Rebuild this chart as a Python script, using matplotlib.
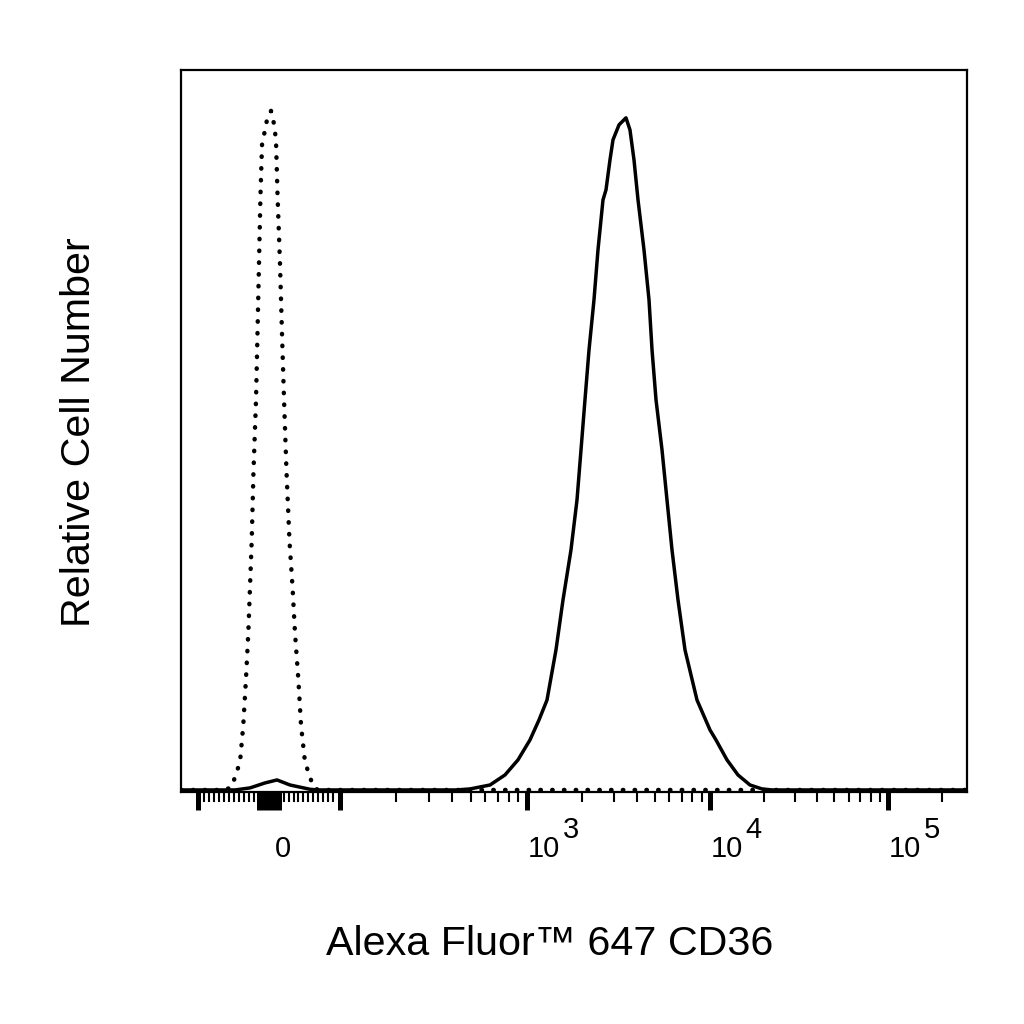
import numpy as np
import matplotlib
matplotlib.use("Agg")
import matplotlib.pyplot as plt

plt.rcParams['font.family'] = ['Liberation Sans', 'DejaVu Sans']

# ---------------- data (fluorescence intensity, relative count) ----------------
stained_x = [-123, -47.7, -26.5, -5.3, 11.7, 30, 58.3, 69.6, 420,
             497, 635, 763, 895, 1038, 1163, 1286, 1440, 1573, 1739, 1876, 1973,
             2074, 2182, 2323, 2443, 2602, 2702, 2841, 2951, 3183, 3475,
             3654, 3843, 4042, 4358, 4642, 4822, 5070, 5467, 5821, 6200, 6686,
             7301, 8492, 10000, 10806, 12461, 14364, 16776, 19599, 22300, 278000]
stained_y = [0, 0, 0.3, 1.03, 1.47, 0.73, 0.1, 0, 0,
             0.15, 0.73, 2.2, 4.41, 7.34, 10.28, 13.2, 20.56, 27.9, 35.24, 42.58, 49.93,
             57.27, 64.6, 71.95, 79.3, 86.64, 88.1, 92.5, 95.45, 97.65, 98.68,
             96.9, 92.5, 86.64, 79.3, 71.95, 64.6, 57.27, 49.93, 42.58, 35.24, 27.9,
             20.56, 13.2, 8.81, 7.34, 4.41, 2.2, 0.73, 0.15, 0, 0]

control_x = [-123, -61.8, -52.4, -40.6, -36.0, -32.2, -28.9, -26.5, -24.1, -21.6, -18.0,
             -15.9, -13.8, -11.7, -9.5, -2.9, 3.2, 7.4, 10.2, 12.4, 15.9, 18.7, 21.6,
             25.1, 29.3, 33.6, 37.1, 41.8, 45.6, 51.2, 63.0, 69.6, 278000]
control_y = [0, 0, 0.44, 4.11, 9.54, 16.3, 23.05, 29.8, 36.56, 46.7, 57.27,
             67.1, 77.24, 87.37, 94.7, 98.16, 99.7, 97.8, 95.45, 87.37, 77.24, 67.1, 57.27,
             46.7, 36.56, 29.8, 23.05, 16.3, 9.54, 4.11, 0.44, 0, 0]

decade_values = [1e3, 1e4, 1e5]
decade_exponents = ['3', '4', '5']
zero_label = '0'
xlabel = 'Alexa Fluor\u2122 647 CD36'
ylabel = 'Relative Cell Number'

# ---------------- biexponential-like scale ----------------
T_ANCH = np.array([-6.0, -1.0, 0.0, 1.0, 2.0, 3.0, 4.0, 6.0])
P_ANCH = np.array([198 - 5 * 187.5, 198, 268.75, 339.5, 527, 710, 888, 888 + 2 * 178])


def _to_t(x):
    a = np.abs(x)
    t = np.where(a <= 100, a / 100.0, 1 + np.log10(np.maximum(a, 100) / 100.0))
    return np.sign(x) * t


def fwd(x):
    x = np.asarray(x, dtype=float)
    return np.interp(_to_t(x), T_ANCH, P_ANCH)


def inv(p):
    p = np.asarray(p, dtype=float)
    t = np.interp(p, P_ANCH, T_ANCH)
    a = np.abs(t)
    v = np.where(a <= 1, a * 100.0, 100.0 * 10 ** (np.minimum(a, 8) - 1))
    return np.sign(t) * v


fig = plt.figure(figsize=(10.24, 10.24), dpi=100)
ax = fig.add_axes([181 / 1024, 1 - 792 / 1024, (967 - 181) / 1024, (792 - 70) / 1024])
ax.set_xscale('function', functions=(fwd, inv))
ax.set_xlim(float(inv(181)), float(inv(967)))
ax.set_ylim(-0.3, 105.7)

ax.plot(control_x, control_y, color='black', linewidth=3.2,
        dashes=(0.1, 2.55), dash_capstyle='round', solid_capstyle='round', zorder=3)
ax.plot(stained_x, stained_y, color='black', linewidth=2.5, zorder=4,
        solid_joinstyle='round')

for s in ax.spines.values():
    s.set_linewidth(1.6)
    s.set_color('black')

ax.set_yticks([])

# ticks
major = [-100, -14, -7, 0, 7, 14, 100, 1e3, 1e4, 1e5]
minor = [k * 7 for k in range(3, 14)] + [-k * 7 for k in range(3, 14)]
for dec in [100, 1000, 10000, 100000]:
    minor += [m * dec for m in range(2, 10)]
minor = [m for m in minor if m < inv(967)]
ax.set_xticks(major)
ax.set_xticks(minor, minor=True)
ax.set_xticklabels([])
ax.tick_params(axis='x', which='major', direction='out', length=13, width=3.6, color='black')
ax.tick_params(axis='x', which='minor', direction='out', length=7.2, width=1.5, color='black')

fs = 21
ax.annotate(zero_label, xy=(0, 0), xycoords=('data', 'axes fraction'),
            xytext=(4.5, -46.8), textcoords='offset points', ha='left', va='baseline',
            fontsize=fs)
for v, e in zip(decade_values, decade_exponents):
    ax.annotate('10', xy=(v, 0), xycoords=('data', 'axes fraction'),
                xytext=(0.3, -46.8), textcoords='offset points', ha='left', va='baseline',
                fontsize=fs)
    ax.annotate(e, xy=(v, 0), xycoords=('data', 'axes fraction'),
                xytext=(25.5, -33.1), textcoords='offset points', ha='left', va='baseline',
                fontsize=fs)

fig.text(550 / 1024, 1 - 955 / 1024, xlabel, ha='center', va='baseline', fontsize=29.7)
fig.text(79 / 1024, 1 - 432 / 1024, ylabel, ha='center', va='center', rotation=90,
         fontsize=29.7)

fig.savefig('out.png', dpi=100)
